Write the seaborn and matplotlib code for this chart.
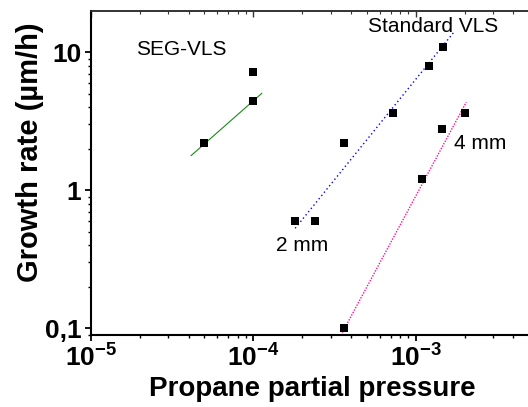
import seaborn as sns
import matplotlib.pyplot as plt
from matplotlib.ticker import FixedLocator, FixedFormatter, LogLocator, NullFormatter

# values
seg_x = [5.0e-5, 1.0e-4, 1.0e-4]
seg_y = [2.2, 4.4, 7.2]
std_x = [1.8e-4, 2.4e-4, 3.6e-4, 7.2e-4, 1.2e-3, 1.47e-3]
std_y = [0.6, 0.6, 2.2, 3.6, 8.0, 11.0]
mm4_x = [3.6e-4, 1.1e-3, 1.45e-3, 2.0e-3]
mm4_y = [0.1, 1.2, 2.8, 3.6]

# fitted lines (end points)
seg_fit_x = [4.13e-5, 1.13e-4]
seg_fit_y = [1.78, 5.05]
std_fit_x = [1.81e-4, 1.73e-3]
std_fit_y = [0.53, 14.1]
mm4_fit_x = [3.53e-4, 2.05e-3]
mm4_fit_y = [0.093, 4.35]

x_ticks = [1e-5, 1e-4, 1e-3]
x_labels = [r'$\mathbf{10^{-5}}$', r'$\mathbf{10^{-4}}$', r'$\mathbf{10^{-3}}$']
y_ticks = [0.1, 1, 10]
y_labels = ['0,1', '1', '10']

sns.set_style('ticks')
plt.rcParams['font.family'] = ['Liberation Sans', 'DejaVu Sans']
plt.rcParams['mathtext.fontset'] = 'custom'
plt.rcParams['mathtext.rm'] = 'Liberation Sans'
plt.rcParams['mathtext.bf'] = 'Liberation Sans:bold'
plt.rcParams['text.color'] = 'black'
plt.rcParams['axes.labelcolor'] = 'black'

fig = plt.figure(figsize=(5.28, 4.07), dpi=100)
ax = fig.add_axes([91 / 528, 1 - 335 / 407, 487 / 528, 324 / 407])
ax.set(xscale='log', yscale='log')

sns.lineplot(x=seg_fit_x, y=seg_fit_y, ax=ax, color='#1a8a1a', linewidth=0.8, zorder=1)
sns.lineplot(x=std_fit_x, y=std_fit_y, ax=ax, color='#0000ff', linewidth=1.0, linestyle=(0, (1, 2)), zorder=1)
sns.lineplot(x=mm4_fit_x, y=mm4_fit_y, ax=ax, color='#ff1493', linewidth=1.0, linestyle=(0, (1, 1)), zorder=1)

for xs, ys in [(seg_x, seg_y), (std_x, std_y), (mm4_x, mm4_y)]:
    sns.scatterplot(x=xs, y=ys, ax=ax, marker='s', s=30, color='black',
                    edgecolor='black', linewidth=0, zorder=3)

ax.set_xlim(1e-5, 1e-2)
ax.set_ylim(0.0894, 19.9)

ax.xaxis.set_major_locator(FixedLocator(x_ticks))
ax.xaxis.set_major_formatter(FixedFormatter(x_labels))
ax.xaxis.set_minor_locator(LogLocator(base=10, subs=range(2, 10)))
ax.xaxis.set_minor_formatter(NullFormatter())
ax.yaxis.set_major_locator(FixedLocator(y_ticks))
ax.yaxis.set_major_formatter(FixedFormatter(y_labels))
ax.yaxis.set_minor_locator(LogLocator(base=10, subs=range(2, 10)))
ax.yaxis.set_minor_formatter(NullFormatter())

ax.tick_params(which='major', length=4, width=1.3, direction='out', pad=3,
               labelsize=19, colors='black')
ax.tick_params(which='minor', length=2.2, width=1.0, direction='out', colors='black')
for lab in ax.get_xticklabels() + ax.get_yticklabels():
    lab.set_fontweight('bold')

for side in ['left', 'bottom']:
    ax.spines[side].set_linewidth(1.5)
    ax.spines[side].set_color('black')
ax.spines['right'].set_visible(False)
ax.spines['top'].set_linewidth(1.2)
ax.spines['top'].set_color('#333333')

# top axis: ticks pointing into the plot, no labels
top = ax.secondary_xaxis('top')
top.xaxis.set_major_locator(FixedLocator(x_ticks))
top.xaxis.set_minor_locator(LogLocator(base=10, subs=range(2, 10)))
top.xaxis.set_major_formatter(NullFormatter())
top.xaxis.set_minor_formatter(NullFormatter())
top.tick_params(which='major', direction='in', length=4, width=1.0, colors='#333333')
top.tick_params(which='minor', direction='in', length=2.2, width=0.8, colors='#333333')
top.spines['top'].set_linewidth(1.2)
top.spines['top'].set_color('#333333')

ax.set_xlabel('Propane partial pressure', fontsize=20, fontweight='bold', color='black')
ax.set_ylabel('Growth rate (µm/h)', fontsize=21, fontweight='bold', color='black')
ax.xaxis.set_label_coords((312.5 - 91) / 487, (335 - 376) / 324)
ax.yaxis.set_label_coords((44 - 91) / 487, (335 - 152) / 324)

ax.text(3.6e-5, 10.5, 'SEG-VLS', fontsize=15, ha='center', va='center', color='black')
ax.text(1.29e-3, 15.3, 'Standard VLS', fontsize=15, ha='center', va='center', color='black')
ax.text(2.5e-3, 2.19, '4 mm', fontsize=15, ha='center', va='center', color='black')
ax.text(1.99e-4, 0.397, '2 mm', fontsize=15, ha='center', va='center', color='black')

fig.savefig('out.png', dpi=100)
